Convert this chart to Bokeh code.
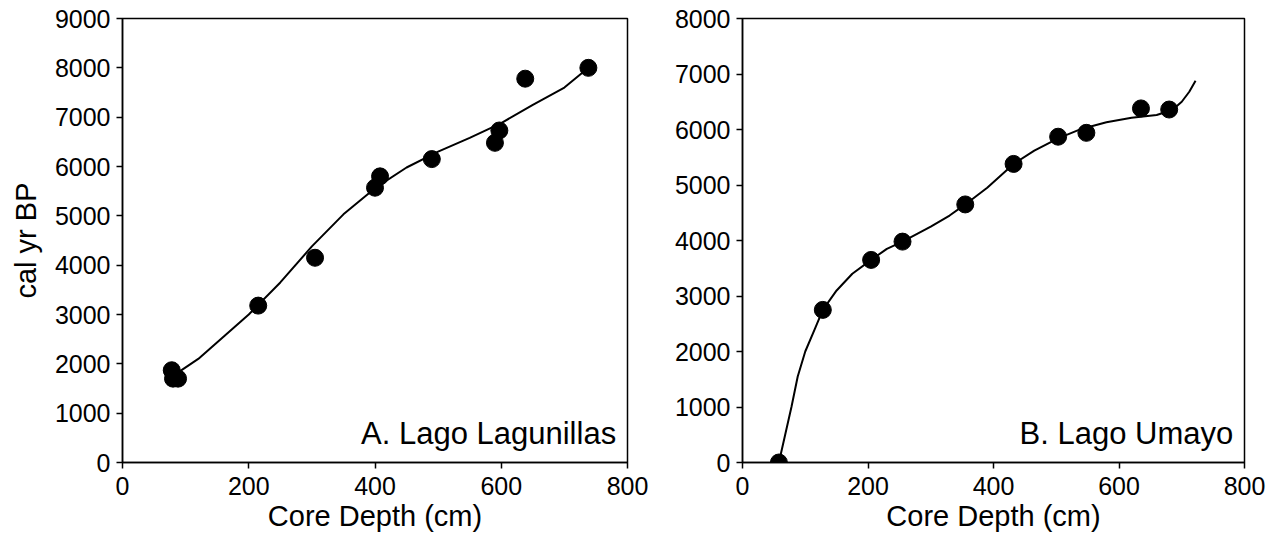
from bokeh.plotting import figure
from bokeh.layouts import row
from bokeh.models import Range1d, Label, FixedTicker
from bokeh.embed import file_html
from bokeh.resources import INLINE

# Panel A: Lago Lagunillas
a_depth = [78, 80, 88, 215, 305, 400, 408, 490, 590, 597, 638, 738]
a_age = [1870, 1700, 1700, 3180, 4150, 5570, 5800, 6150, 6480, 6730, 7780, 8000]
a_curve_depth = [83, 120, 160, 200, 250, 300, 350, 400, 450, 500, 550, 600, 650, 700, 740]
a_curve_age = [1780, 2100, 2550, 3000, 3650, 4380, 5030, 5560, 5980, 6300, 6580, 6880, 7250, 7600, 8020]

# Panel B: Lago Umayo
b_depth = [58, 128, 205, 255, 355, 432, 503, 548, 635, 680]
b_age = [0, 2750, 3650, 3980, 4650, 5380, 5870, 5940, 6380, 6360]
b_curve_depth = [58, 68, 78, 88, 100, 115, 128, 150, 175, 205, 230, 255, 300, 330, 355,
                 390, 432, 465, 503, 540, 580, 620, 660, 685, 700, 712, 722]
b_curve_age = [0, 500, 1000, 1550, 2000, 2400, 2750, 3100, 3400, 3650, 3850, 3980, 4250, 4450, 4650,
               4950, 5380, 5620, 5840, 6010, 6130, 6210, 6260, 6350, 6500, 6680, 6880]

x_ticks = [0, 200, 400, 600, 800]
a_y_ticks = list(range(0, 9001, 1000))
b_y_ticks = list(range(0, 8001, 1000))

x_title = "Core Depth (cm)"
y_title = "cal yr BP"

FONT = "Liberation Sans"


def make_panel(width, left, right, ymax, yticks, ylabel, xs, ys, cx, cy, title, tx):
    p = figure(width=width, height=534, output_backend="svg", toolbar_location=None,
               x_range=Range1d(0, 800), y_range=Range1d(0, ymax),
               min_border_left=left, min_border_right=right,
               min_border_top=18, min_border_bottom=72)
    p.grid.visible = False
    p.background_fill_color = "white"
    p.border_fill_color = "white"
    p.outline_line_color = "black"
    p.outline_line_width = 1.5
    p.outline_line_alpha = 1
    for ax in (p.xaxis[0], p.yaxis[0]):
        ax.axis_line_width = 1.5
        ax.axis_line_color = "black"
        ax.major_tick_line_width = 1.5
        ax.major_tick_out = 6
        ax.major_tick_in = 0
        ax.minor_tick_line_color = None
        ax.major_label_text_font = FONT
        ax.major_label_text_font_size = "25px"
        ax.major_label_text_color = "black"
        ax.axis_label_text_font = FONT
        ax.axis_label_text_font_size = "29px"
        ax.axis_label_text_font_style = "normal"
        ax.axis_label_text_color = "black"
    p.xaxis.ticker = FixedTicker(ticks=x_ticks)
    p.yaxis.ticker = FixedTicker(ticks=yticks)
    p.xaxis.axis_label = x_title
    p.xaxis.axis_label_standoff = 2
    p.xaxis.major_label_standoff = 8
    if ylabel:
        p.yaxis.axis_label = ylabel
        p.yaxis.axis_label_standoff = 10
    p.yaxis.major_label_standoff = 6
    p.line(cx, cy, line_color="black", line_width=2)
    p.scatter(xs, ys, size=17, fill_color="black", line_color="black")
    p.add_layout(Label(x=tx, y=ymax * 0.025, text=title, text_align="right",
                       text_baseline="bottom", text_font=FONT,
                       text_font_size="31px", text_color="black"))
    return p


pa = make_panel(650, 122, 23, 9000, a_y_ticks, y_title,
                a_depth, a_age, a_curve_depth, a_curve_age,
                "A. Lago Lagunillas", 782)
pb = make_panel(623, 92, 29, 8000, b_y_ticks, None,
                b_depth, b_age, b_curve_depth, b_curve_age,
                "B. Lago Umayo", 782)

layout = row(pa, pb)
open("out.html", "w").write(file_html(layout, INLINE))
